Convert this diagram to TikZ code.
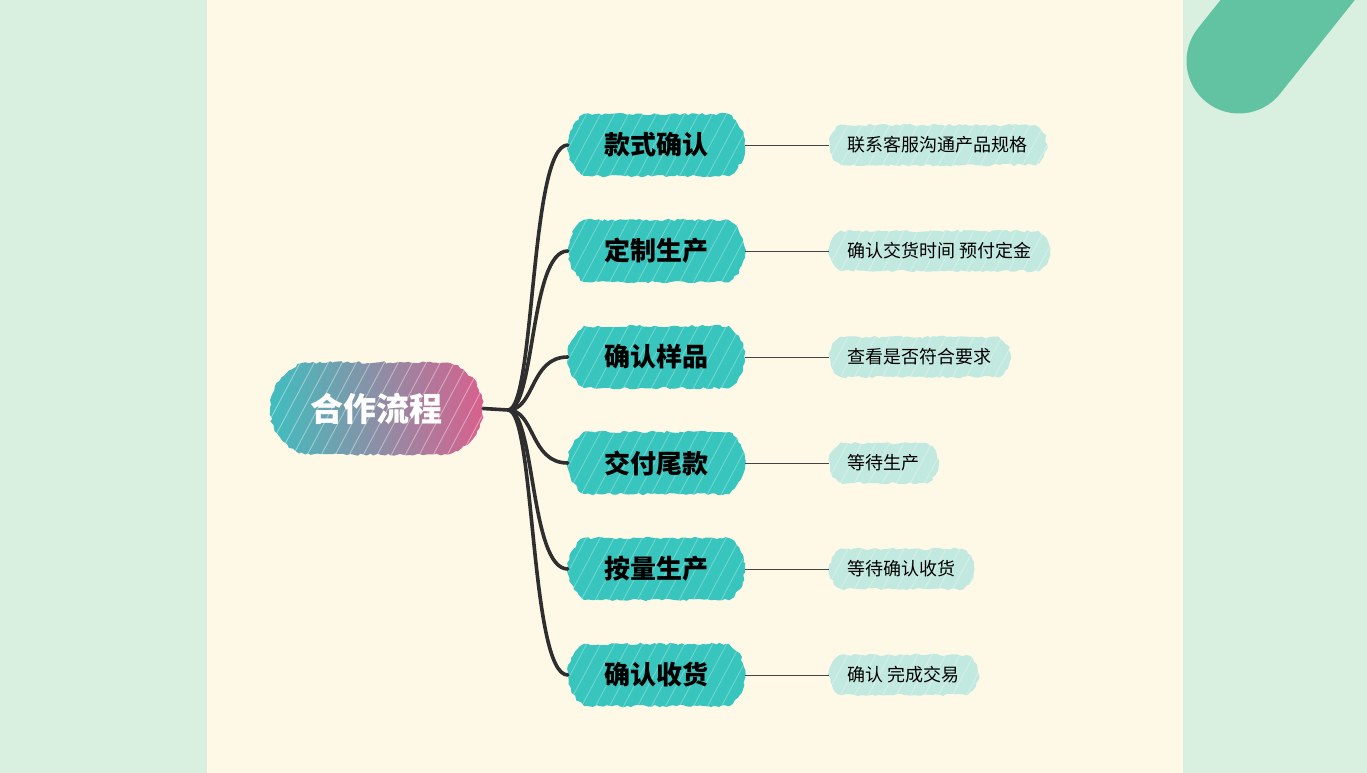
\documentclass[tikz,border=0pt]{standalone}
\usepackage{fontspec}
\newfontfamily\cjk{Noto Sans CJK SC}
\usetikzlibrary{decorations.pathmorphing,shapes.misc}
\definecolor{bgg}{HTML}{D9EFDF}
\definecolor{cream}{HTML}{FEF8E7}
\definecolor{band}{HTML}{62C3A3}
\definecolor{tealc}{HTML}{38C5BE}
\definecolor{leafc}{HTML}{C2E9DF}
\definecolor{rootl}{HTML}{3BC0C0}
\definecolor{rootr}{HTML}{DC5E8C}
\definecolor{trunkc}{HTML}{2E2E2E}
\definecolor{thinc}{HTML}{444444}
\tikzset{
  rough/.style={decorate, decoration={random steps, segment length=3.5pt, amplitude=1.3pt}},
  hatch/.style={path picture={\foreach \k in {-70,-56,...,260}{\draw[white, opacity=#1, line width=0.9pt] ([xshift=\k pt]path picture bounding box.south west) -- ++(62:140pt);}}},
  rootbox/.style={shape=rounded rectangle, rounded rectangle arc length=150, rough, minimum width=213pt, minimum height=92pt, inner sep=0pt,
    left color=rootl, right color=rootr, text=white, font=\cjk\bfseries\fontsize{33}{33}\selectfont, hatch=0.4},
  subbox/.style={shape=rounded rectangle, rounded rectangle arc length=110, rough, fill=tealc, minimum width=177pt, minimum height=62pt, inner sep=0pt,
    text=black, font=\cjk\bfseries\fontsize{26}{26}\selectfont, hatch=0.28},
  leafbox/.style={shape=rounded rectangle, rounded rectangle arc length=120, rough, fill=leafc, minimum height=40pt, inner xsep=17pt, inner ysep=0pt,
    anchor=west, text=black, font=\cjk\fontsize{18}{18}\selectfont, hatch=0.3},
  trunk/.style={draw=trunkc, line width=3.6pt, line cap=round},
  twig/.style={draw=thinc, line width=1pt}
}
\begin{document}
\begin{tikzpicture}[x=1pt,y=-1pt]
\useasboundingbox (0,0) rectangle (1367,773);
\fill[bgg] (0,0) rectangle (1367,773);
\fill[cream] (207,0) rectangle (1183,773);
\begin{scope}
  \clip (0,0) rectangle (1367,773);
  \draw[band, line width=105pt, line cap=round] (1239,61) -- (1345,-72);
\end{scope}

\coordinate (hub) at (508,410);
\node[rootbox] (root) at (376.5,408.5) {合作流程};

\node[subbox] (s1) at (656.5,145) {款式确认};
\node[subbox] (s2) at (656.5,251) {定制生产};
\node[subbox] (s3) at (656.5,357) {确认样品};
\node[subbox] (s4) at (656.5,463) {交付尾款};
\node[subbox] (s5) at (656.5,569) {按量生产};
\node[subbox] (s6) at (656.5,675) {确认收货};

\node[leafbox] (l1) at (829,145) {联系客服沟通产品规格};
\node[leafbox] (l2) at (829,251) {确认交货时间 预付定金};
\node[leafbox] (l3) at (829,357) {查看是否符合要求};
\node[leafbox] (l4) at (829,463) {等待生产};
\node[leafbox] (l5) at (829,569) {等待确认收货};
\node[leafbox] (l6) at (829,675) {确认 完成交易};

\draw[trunk] (root.east) -- (hub);
\foreach \s in {s1,s2,s3,s4,s5,s6}{
  \draw[trunk] (hub) .. controls ([xshift=27pt]hub) and ([xshift=-38pt]\s.west) .. (\s.west);
}
\foreach \i in {1,...,6}{
  \draw[twig] (s\i.east) -- (l\i.west);
}
\end{tikzpicture}
\end{document}
